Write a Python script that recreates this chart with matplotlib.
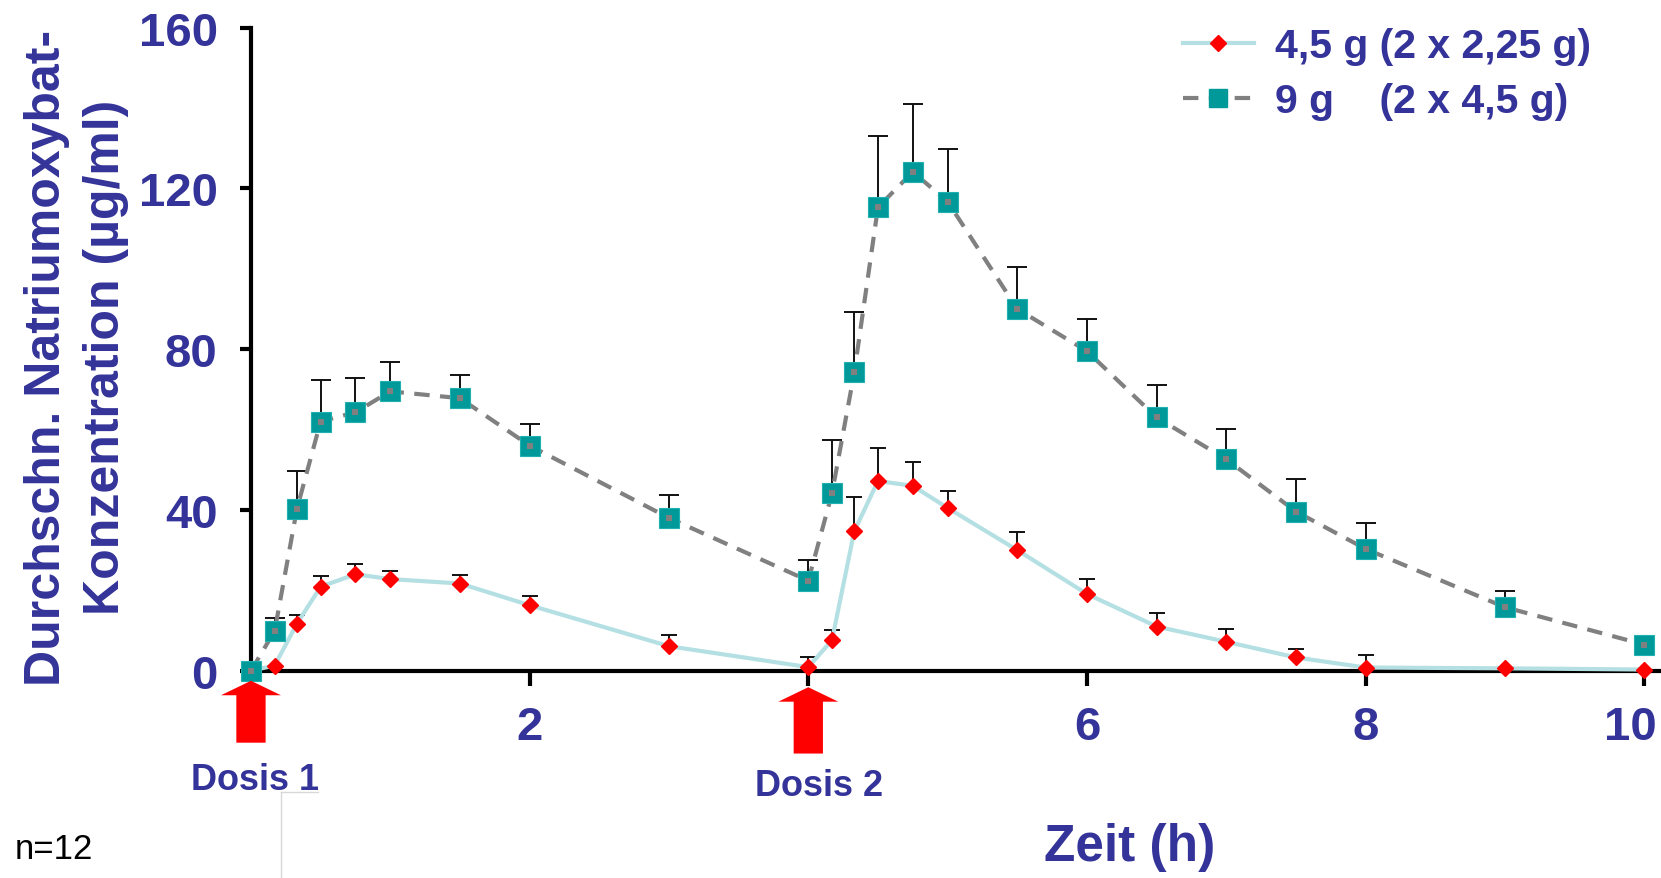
import matplotlib
matplotlib.use("Agg")
import matplotlib.pyplot as plt
import numpy as np
from matplotlib.lines import Line2D
from matplotlib.patches import FancyArrow
from matplotlib.transforms import ScaledTranslation

# ---------------- data ----------------
time_h = [0, 0.17, 0.33, 0.5, 0.75, 1, 1.5, 2, 3, 4, 4.17, 4.33, 4.5, 4.75, 5,
          5.5, 6, 6.5, 7, 7.5, 8, 9, 10]
conc_45 = [0, 1.3, 11.7, 20.9, 24.0, 22.8, 21.7, 16.3, 6.1, 0.9, 7.6, 34.7, 47.2,
           46.0, 40.5, 30.0, 19.1, 11.0, 7.2, 3.3, 0.8, 0.6, 0.3]
sd_45 = [np.nan, np.nan, 2.2, 2.6, 2.6, 2.1, 2.1, 2.4, 2.7, 2.4, 2.6, 8.6, 8.1,
         5.9, 4.1, 4.6, 3.8, 3.3, 3.2, 2.2, 3.0, np.nan, np.nan]
conc_9 = [0, 9.9, 40.3, 62.0, 64.3, 69.5, 67.8, 56.0, 38.0, 22.4, 44.1, 74.2, 115.3,
          124.1, 116.7, 90.0, 79.5, 63.0, 52.6, 39.6, 30.3, 15.8, 6.5]
sd_9 = [np.nan, 3.2, 9.3, 10.3, 8.4, 7.2, 5.8, 5.3, 5.6, 5.2, 13.4, 15.1, 17.8,
        16.8, 13.0, 10.4, 7.9, 8.0, 7.6, 8.0, 6.4, 4.0, np.nan]
label_45 = "4,5 g (2 x 2,25 g)"
label_9 = "9 g    (2 x 4,5 g)"
dose_times = [0, 4]
dose_labels = ["Dosis 1", "Dosis 2"]
y_ticks = [0, 40, 80, 120, 160]
x_ticks = [0, 2, 4, 6, 8, 10]
x_ticklabels = ["", "2", "", "6", "8", "10"]

# ---------------- style ----------------
plt.rcParams['font.family'] = ['Liberation Sans', 'DejaVu Sans']
TXT = '#333399'
LBLUE = '#b4e0e4'
TEAL = '#009999'
GRAY = '#808080'

fig = plt.figure(figsize=(16.61, 8.79), dpi=100)
ax = fig.add_axes([0.1511, 0.2358, 0.8489, 0.7317])
ax.set_xlim(0, 10.12)
ax.set_ylim(0, 160)

for s in ['top', 'right']:
    ax.spines[s].set_visible(False)
ax.spines['left'].set_linewidth(3)
ax.spines['bottom'].set_linewidth(3)
ax.spines['left'].set_bounds(0, 160)

ax.set_yticks(y_ticks)
ax.set_yticklabels([str(v) for v in y_ticks])
ax.set_xticks(x_ticks)
ax.set_xticklabels(x_ticklabels)
ax.tick_params(axis='y', direction='out', length=8, width=3, pad=16,
               labelsize=34, labelcolor=TXT)
ax.tick_params(axis='x', direction='out', length=11, width=3, pad=14,
               labelsize=34, labelcolor=TXT)
for lab in ax.get_xticklabels() + ax.get_yticklabels():
    lab.set_fontweight('bold')
# last x label nudged left so it stays inside the figure
last = ax.get_xticklabels()[-1]
last.set_transform(last.get_transform() + ScaledTranslation(-10 / 72, 0, fig.dpi_scale_trans))

n = len(time_h)
# error bars (upper only)
eb9 = ax.errorbar(time_h, conc_9, yerr=[np.zeros(n), sd_9], fmt='none',
                  ecolor='#111111', elinewidth=1.4, capsize=7, capthick=1.4, zorder=3)
eb9[1][0].set_visible(False)
eb45 = ax.errorbar(time_h, conc_45, yerr=[np.zeros(n), sd_45], fmt='none',
                   ecolor='#111111', elinewidth=1.4, capsize=6, capthick=1.4, zorder=3)
eb45[1][0].set_visible(False)

# 4,5 g series
ax.plot(time_h, conc_45, '-', color=LBLUE, lw=3, zorder=4, clip_on=False)
ax.plot(time_h, conc_45, 'D', color='#ff0000', ms=8, mec='#ff0000', zorder=5, clip_on=False)
# 9 g series
ax.plot(time_h, conc_9, color=GRAY, lw=3, ls=(0, (3.7, 2.5)), zorder=6, clip_on=False)
ax.plot(time_h, conc_9, 's', color=TEAL, ms=15, mec='#20b0b0', mew=0.8, zorder=7, clip_on=False)
ax.plot(time_h, conc_9, 's', color=GRAY, ms=5, mew=0, zorder=8, clip_on=False)

# dose arrows and labels
arrow_bottom = [-17.9, -20.6]
arrow_tip = [-2.5, -4.1]
label_y = [-27.1, -28.5]
label_dx = [0.03, 0.08]
for t, b, tp, ly, dx, txt in zip(dose_times, arrow_bottom, arrow_tip, label_y,
                                 label_dx, dose_labels):
    arr = FancyArrow(t, b, 0, tp - b, width=0.21, head_width=0.43, head_length=3.6,
                     length_includes_head=True, color='#ff0000', lw=0,
                     clip_on=False, zorder=9)
    ax.add_patch(arr)
    ax.text(t + dx, ly, txt, ha='center', va='center', fontsize=26,
            fontweight='bold', color=TXT, clip_on=False)

# axis labels
fig.text(0.046, 0.593, "Durchschn. Natriumoxybat-\nKonzentration (µg/ml)",
         rotation=90, ha='center', va='center', multialignment='center',
         fontsize=36, fontweight='bold', color=TXT, linespacing=1.35)
fig.text(0.680, 0.036, "Zeit (h)", ha='center', va='center', fontsize=37,
         fontweight='bold', color=TXT)
fig.text(0.009, 0.033, "n=12", ha='left', va='center', fontsize=25, color='black')

# faint artifact lines
fig.add_artist(Line2D([0.169, 0.169], [0.0, 0.0984], color='#d8d8d8', lw=1))
fig.add_artist(Line2D([0.169, 0.1914], [0.0984, 0.0984], color='#d8d8d8', lw=1))

# legend
h45 = Line2D([], [], color=LBLUE, lw=3, marker='D', mfc='#ff0000', mec='#ff0000', ms=8)
h9 = Line2D([], [], color=GRAY, lw=3, ls=(0, (3.7, 2.5)), marker='s', mfc=TEAL,
            mec=TEAL, ms=13)
leg = fig.legend([h45, h9], [label_45, label_9], loc='upper left',
                 bbox_to_anchor=(0.712, 0.968), frameon=False, fontsize=29.5,
                 handlelength=1.75, handletextpad=0.5, labelspacing=0.42,
                 borderpad=0, borderaxespad=0)
for t in leg.get_texts():
    t.set_color(TXT)
    t.set_fontweight('bold')

fig.savefig('out.png', dpi=100)
